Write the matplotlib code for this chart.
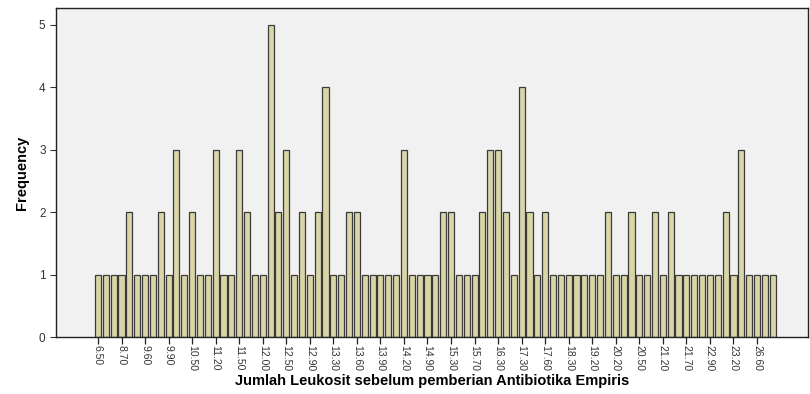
import matplotlib
matplotlib.use('Agg')
import matplotlib.pyplot as plt
import numpy as np

plt.rcParams['font.family'] = ['Liberation Sans', 'DejaVu Sans']

# frequency of each leukocyte value (87 distinct values, left to right)
freqs = [1, 1, 1, 1, 2, 1, 1, 1, 2, 1, 3, 1,
         2, 1, 1, 3, 1, 1, 3, 2, 1, 1, 5, 2,
         3, 1, 2, 1, 2, 4, 1, 1, 2, 2, 1, 1,
         1, 1, 1, 3, 1, 1, 1, 1, 2, 2, 1, 1,
         1, 2, 3, 3, 2, 1, 4, 2, 1, 2, 1, 1,
         1, 1, 1, 1, 1, 2, 1, 1, 2, 1, 1, 2,
         1, 2, 1, 1, 1, 1, 1, 1, 2, 1, 3, 1,
         1, 1, 1]

# only every third category is labelled on the axis
tick_labels = ['6.50', '8.70', '9.60', '9.90', '10.50', '11.20', '11.50',
               '12.00', '12.50', '12.90', '13.30', '13.60', '13.90', '14.20',
               '14.90', '15.30', '15.70', '16.30', '17.30', '17.60', '18.30',
               '19.20', '20.20', '20.50', '21.20', '21.70', '22.90', '23.20',
               '26.60']

x = np.arange(len(freqs))

fig = plt.figure(figsize=(8.1, 3.94), dpi=100)
ax = fig.add_axes([56/810, 57/394, 752/810, 329/394])
ax.set_facecolor('#f1f1f1')

ax.bar(x, freqs, width=0.78, color='#d9d5a7', edgecolor='#3a3a3a', linewidth=0.9)

ax.set_xlim(-5.35, 90.5)
ax.set_ylim(0, 5.27)
ax.set_yticks([0, 1, 2, 3, 4, 5])
ax.set_xticks(x[::3])
ax.set_xticklabels(tick_labels, rotation=-90, fontsize=7.5, color='#333333')
ax.tick_params(axis='y', labelsize=8.5, colors='#333333', length=4, width=0.8)
ax.tick_params(axis='x', length=5, width=0.9, color='#222222', pad=1)

for s in ax.spines.values():
    s.set_color('#222222')
    s.set_linewidth(1.0)

ax.set_xlabel('Jumlah Leukosit sebelum pemberian Antibiotika Empiris',
              fontsize=10.5, fontweight='bold', labelpad=2)
ax.set_ylabel('Frequency', fontsize=10.5, fontweight='bold', labelpad=7)

plt.savefig('out.png', dpi=100)
